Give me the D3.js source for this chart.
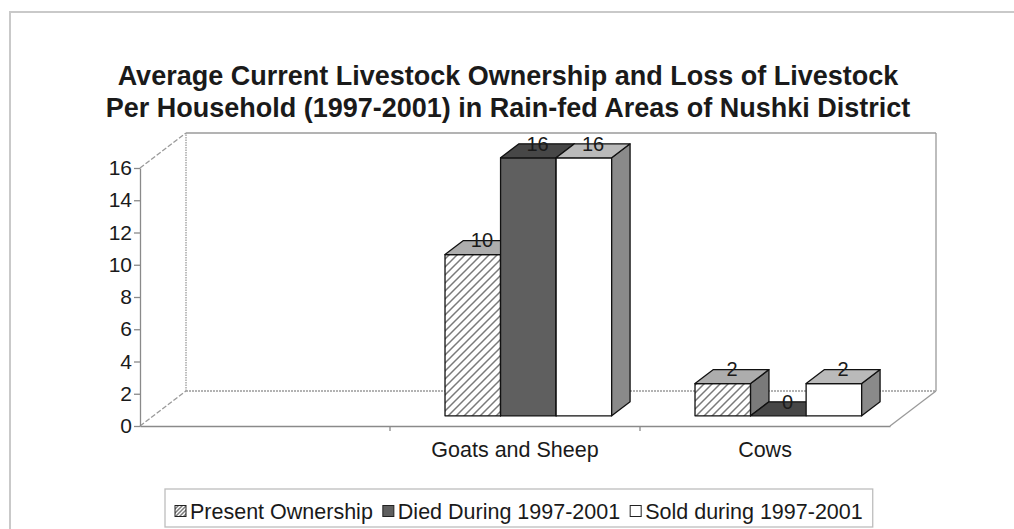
<!DOCTYPE html>
<html>
<head>
<meta charset="utf-8">
<script src="https://cdn.jsdelivr.net/npm/d3@7"></script>
<style>
  body { margin: 0; background: #fff; }
  svg text { font-family: "Liberation Sans", Arial, sans-serif; fill: #1a1a1a; }
</style>
</head>
<body>
<script>
// chart data
var categories = ["", "Goats and Sheep", "Cows"];
var seriesNames = ["Present Ownership", "Died During 1997-2001", "Sold during 1997-2001"];
var presentOwnership = [null, 10, 2];
var diedDuring = [null, 16, 0];
var soldDuring = [null, 16, 2];
var yTicks = [0, 2, 4, 6, 8, 10, 12, 14, 16];
var titleLines = ["Average Current Livestock Ownership and Loss of Livestock",
                  "Per Household (1997-2001) in Rain-fed Areas of Nushki District"];

var width = 1014;
var height = 529;
var depthX = 46;   // floor depth, horizontal
var depthY = 35;   // floor depth, vertical
var z0 = 0.29, z1 = 0.69; // bar depth inside the floor

var seriesValues = [presentOwnership, diedDuring, soldDuring];

// face fills: front, top, side
var faceColors = [
  { front: "url(#hatch)", top: "#adadad", side: "#7a7a7a" },
  { front: "#5f5f5f", top: "#474747", side: "#3f3f3f" },
  { front: "#ffffff", top: "#bababa", side: "#8a8a8a" }
];

var svg = d3.select("body").append("svg")
  .attr("width", width)
  .attr("height", height);

var defs = svg.append("defs");
function makeHatch(id, size) {
  var p = defs.append("pattern")
    .attr("id", id)
    .attr("patternUnits", "userSpaceOnUse")
    .attr("width", size).attr("height", size);
  p.append("rect").attr("width", size).attr("height", size).attr("fill", "#fff");
  p.append("path")
    .attr("d", "M0," + size + "L" + size + ",0M-2,2L2,-2M" + (size - 2) + "," + (size + 2) + "L" + (size + 2) + "," + (size - 2))
    .attr("stroke", "#7a7a7a").attr("stroke-width", 1.5);
}
makeHatch("hatch", 8);
makeHatch("hatchSmall", 4);

// outer border of the chart area
svg.append("rect")
  .attr("x", 10).attr("y", 12)
  .attr("width", 1020).attr("height", 540)
  .attr("fill", "none").attr("stroke", "#c9c9c9").attr("stroke-width", 2);

// title
svg.selectAll(".title")
  .data(titleLines)
  .enter()
  .append("text")
  .attr("class", "title")
  .attr("x", 508)
  .attr("y", function(d, i) { return 85 + i * 32; })
  .attr("text-anchor", "middle")
  .attr("font-size", "27px")
  .attr("font-weight", "bold")
  .text(function(d) { return d; });

// scales
var xScale = d3.scaleBand()
  .domain(categories)
  .range([140, 890]);

var xSeries = d3.scaleBand()
  .domain(seriesNames)
  .range([0, xScale.bandwidth()])
  .paddingOuter(0.75);

var yScale = d3.scaleLinear()
  .domain([0, 16])
  .range([426, 168]);

function proj(x, y, z) {
  return [x + z * depthX, y - z * depthY];
}

// walls and floor
var left = xScale.range()[0], right = xScale.range()[1];
var yb = yScale(0), yt = yScale(16);
var walls = svg.append("g").attr("fill", "none").attr("stroke", "#9a9a9a").attr("stroke-width", 1.3);
var bl = proj(left, yb, 1), tl = proj(left, yt, 1), br = proj(right, yb, 1), tr = proj(right, yt, 1);
walls.append("line").attr("x1", left).attr("y1", yt).attr("x2", tl[0]).attr("y2", tl[1]).attr("stroke-dasharray", "5,2");
walls.append("line").attr("x1", left).attr("y1", yb).attr("x2", bl[0]).attr("y2", bl[1]).attr("stroke-dasharray", "5,2");
walls.append("line").attr("x1", bl[0]).attr("y1", bl[1]).attr("x2", tl[0]).attr("y2", tl[1]).attr("stroke-dasharray", "1.5,1");
walls.append("line").attr("x1", tl[0]).attr("y1", tl[1]).attr("x2", tr[0]).attr("y2", tr[1]);
walls.append("line").attr("x1", tr[0]).attr("y1", tr[1]).attr("x2", br[0]).attr("y2", br[1]);
walls.append("line").attr("x1", bl[0]).attr("y1", bl[1]).attr("x2", br[0]).attr("y2", br[1]).attr("stroke-dasharray", "2,1");
walls.append("line").attr("x1", right).attr("y1", yb).attr("x2", br[0]).attr("y2", br[1]);

// y axis
var yAxis = d3.axisLeft(yScale)
  .tickValues(yTicks)
  .tickSize(6)
  .tickSizeOuter(0)
  .tickPadding(2);

var gy = svg.append("g")
  .attr("transform", "translate(" + left + ",0)")
  .call(yAxis);
gy.selectAll("path, line").attr("stroke", "#8a8a8a").attr("stroke-width", 1.3);
gy.selectAll("text").attr("font-size", "21px").attr("fill", "#1a1a1a")
  .style("font-family", "'Liberation Sans', Arial, sans-serif");

// x axis
var xAxis = d3.axisBottom(xScale)
  .tickSize(0)
  .tickPadding(16);

var gx = svg.append("g")
  .attr("transform", "translate(0," + yb + ")")
  .call(xAxis);
gx.selectAll("path").attr("stroke", "#8a8a8a").attr("stroke-width", 1.3);
gx.selectAll("text").attr("font-size", "21.5px").attr("fill", "#1a1a1a")
  .style("font-family", "'Liberation Sans', Arial, sans-serif");

// category boundary ticks
gx.selectAll(".boundary")
  .data(categories.slice(1))
  .enter()
  .append("line")
  .attr("x1", function(d) { return xScale(d); })
  .attr("x2", function(d) { return xScale(d); })
  .attr("y1", 0).attr("y2", 5)
  .attr("stroke", "#8a8a8a").attr("stroke-width", 1.3);

// bars
var bars = [];
categories.forEach(function(c, ci) {
  seriesNames.forEach(function(s, si) {
    var v = seriesValues[si][ci];
    if (v === null) return;
    bars.push({ cat: c, series: s, si: si, value: v });
  });
});

var ddx = (z1 - z0) * depthX, ddy = (z1 - z0) * depthY;

var barG = svg.selectAll(".bar")
  .data(bars)
  .enter()
  .append("g")
  .attr("class", "bar")
  .attr("stroke", "#111")
  .attr("stroke-width", 1.3)
  .attr("stroke-linejoin", "round");

function geom(d) {
  var x0 = xScale(d.cat) + xSeries(d.series) + z0 * depthX;
  var w = xSeries.bandwidth();
  var yB = yScale(0) - z0 * depthY;
  var yT = yScale(d.value) - z0 * depthY;
  return { x0: x0, x1: x0 + w, yB: yB, yT: yT };
}

barG.each(function(d) {
  var g = d3.select(this);
  var b = geom(d);
  var col = faceColors[d.si];
  if (b.yB - b.yT > 0) {
    g.append("rect")
      .attr("x", b.x0).attr("y", b.yT)
      .attr("width", b.x1 - b.x0).attr("height", b.yB - b.yT)
      .attr("fill", col.front);
    g.append("path")
      .attr("d", "M" + b.x1 + "," + b.yB + "L" + b.x1 + "," + b.yT +
                 "L" + (b.x1 + ddx) + "," + (b.yT - ddy) + "L" + (b.x1 + ddx) + "," + (b.yB - ddy) + "Z")
      .attr("fill", col.side);
  }
  g.append("path")
    .attr("d", "M" + b.x0 + "," + b.yT + "L" + b.x1 + "," + b.yT +
               "L" + (b.x1 + ddx) + "," + (b.yT - ddy) + "L" + (b.x0 + ddx) + "," + (b.yT - ddy) + "Z")
    .attr("fill", col.top);
});

// value labels
svg.selectAll(".value")
  .data(bars)
  .enter()
  .append("text")
  .attr("class", "value")
  .attr("x", function(d) { var b = geom(d); return (b.x0 + b.x1) / 2 + ddx / 2; })
  .attr("y", function(d) { var b = geom(d); return b.yT - ddy / 2 - 7.5; })
  .attr("dy", "0.36em")
  .attr("text-anchor", "middle")
  .attr("font-size", "20px")
  .text(function(d) { return d.value; });

// legend
var legend = svg.append("g");
var legendFont = 21.5;
var lx = 175, ly = 511;
var markerFills = ["url(#hatchSmall)", "#5f5f5f", "#ffffff"];
seriesNames.forEach(function(s, i) {
  legend.append("rect")
    .attr("x", lx).attr("y", ly - 5.5)
    .attr("width", 11).attr("height", 11)
    .attr("fill", markerFills[i])
    .attr("stroke", "#222").attr("stroke-width", 1);
  var t = legend.append("text")
    .attr("x", lx + 15).attr("y", ly)
    .attr("dy", "0.35em")
    .attr("font-size", legendFont + "px")
    .text(s);
  lx = lx + 15 + t.node().getComputedTextLength() + 10;
});
legend.insert("rect", ":first-child")
  .attr("x", 165).attr("y", 489)
  .attr("width", lx - 165).attr("height", 38)
  .attr("fill", "#fff")
  .attr("stroke", "#bdbdbd").attr("stroke-width", 1.3);
</script>
</body>
</html>
